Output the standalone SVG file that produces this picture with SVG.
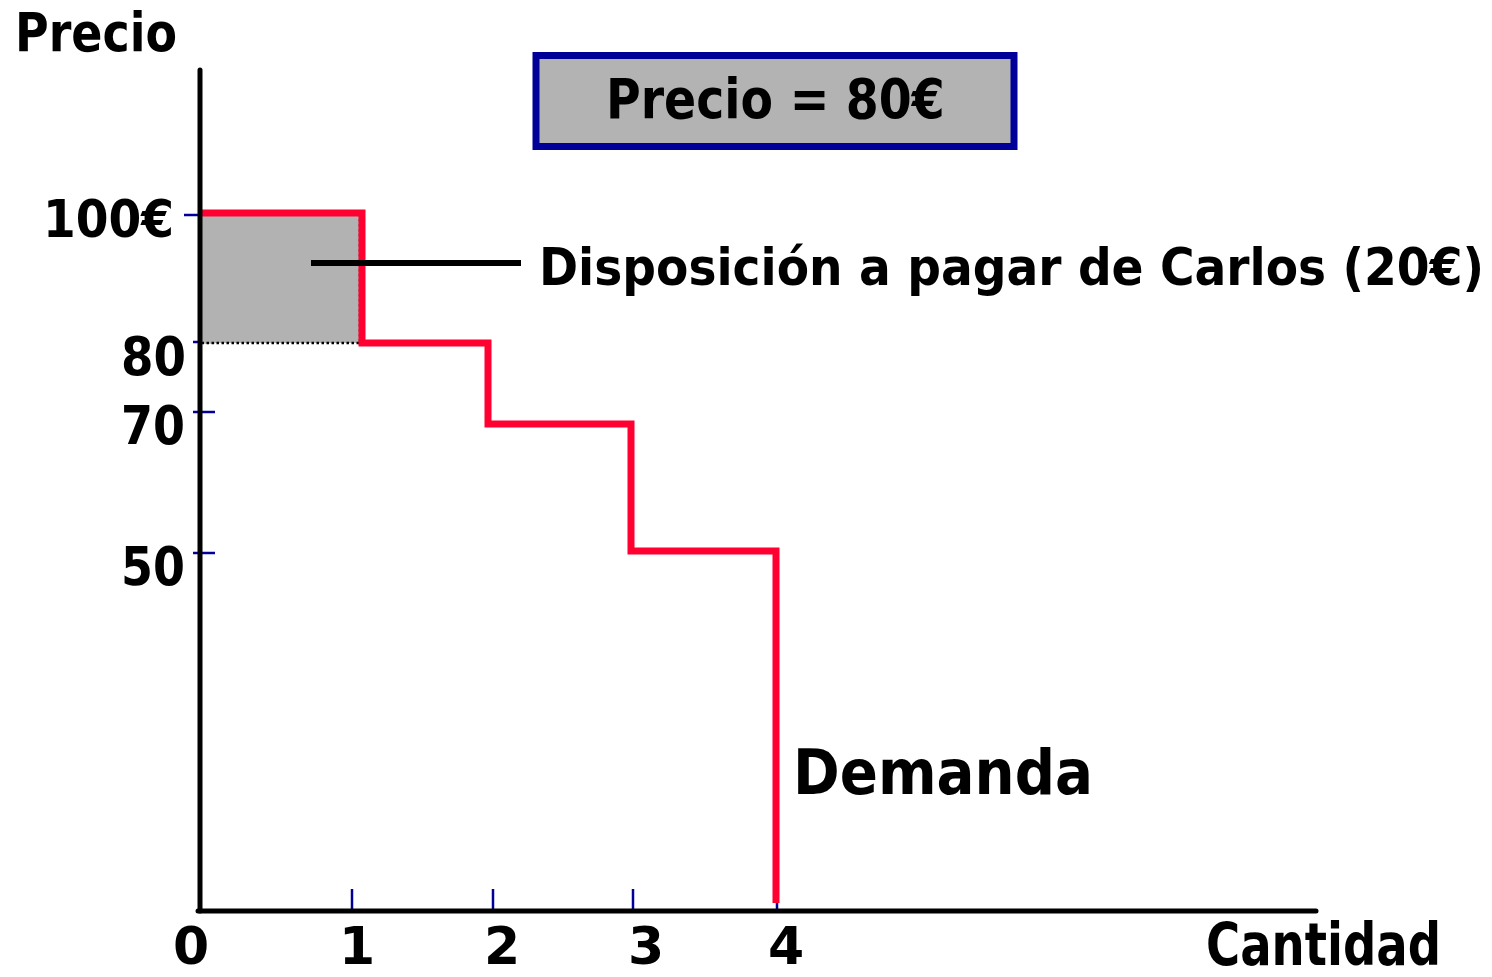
<svg xmlns="http://www.w3.org/2000/svg" width="1492" height="977" viewBox="0 0 1492 977">
<style>
text{font-family:"DejaVu Sans","Liberation Sans",sans-serif;font-weight:bold;fill:#000;}
.num{font-size:52px;text-anchor:middle;}
.tick{stroke:#000099;stroke-width:2.5;fill:none;}
.axis{stroke:#000;stroke-width:5;stroke-linecap:round;fill:none;}
</style>
<rect width="1492" height="977" fill="#fff"/>
<g id="ticks">
<line class="tick" x1="184" y1="215" x2="215" y2="215"/>
<line class="tick" x1="193" y1="342" x2="215" y2="342"/>
<line class="tick" x1="193" y1="412" x2="215" y2="412"/>
<line class="tick" x1="193" y1="553" x2="215" y2="553"/>
<line class="tick" x1="352" y1="889" x2="352" y2="911"/>
<line class="tick" x1="493" y1="889" x2="493" y2="911"/>
<line class="tick" x1="633" y1="889" x2="633" y2="911"/>
<line class="tick" x1="777" y1="889" x2="777" y2="911"/>
</g>
<g id="surplus">
<rect x="200" y="214" width="160" height="129" fill="#b2b2b2" stroke="#000" stroke-width="2.5" stroke-dasharray="2.5,2.5"/>
</g>
<g id="demand">
<polyline points="198,213 362,213 362,343 488,343 488,424 631,424 631,551 776,551 776,903" fill="none" stroke="#ff0030" stroke-width="7" stroke-linejoin="miter"/>
</g>
<g id="axes">
<line class="axis" x1="200" y1="70" x2="200" y2="911"/>
<line class="axis" x1="198" y1="911" x2="1316" y2="911"/>
</g>
<g id="connectors">
<line x1="311" y1="263" x2="521" y2="263" stroke="#000" stroke-width="6"/>
</g>
<g id="price-box">
<rect x="536" y="55.5" width="478" height="91" fill="#b3b3b3" stroke="#000099" stroke-width="7"/>
<text transform="translate(606 118) scale(0.862 1)" font-size="55" textLength="393" lengthAdjust="spacingAndGlyphs">Precio = 80€</text>
</g>
<g id="labels">
<text transform="translate(15 51) scale(0.85 1)" font-size="54" textLength="190.6" lengthAdjust="spacingAndGlyphs">Precio</text>
<text transform="translate(43 237) scale(0.923 1)" font-size="51" textLength="142" lengthAdjust="spacingAndGlyphs">100€</text>
<text transform="translate(121 375) scale(0.88 1)" font-size="53" textLength="73.9" lengthAdjust="spacingAndGlyphs">80</text>
<text transform="translate(121 444) scale(0.88 1)" font-size="53" textLength="72.7" lengthAdjust="spacingAndGlyphs">70</text>
<text transform="translate(121 585) scale(0.88 1)" font-size="53" textLength="72.7" lengthAdjust="spacingAndGlyphs">50</text>
<text transform="translate(539 285) scale(0.924 1)" font-size="51" textLength="1022.7" lengthAdjust="spacingAndGlyphs">Disposición a pagar de Carlos (20€)</text>
<text transform="translate(793 794) scale(0.894 1)" font-size="63" textLength="335.6" lengthAdjust="spacingAndGlyphs">Demanda</text>
<text transform="translate(1206 965) scale(0.80 1)" font-size="58" textLength="293.8" lengthAdjust="spacingAndGlyphs">Cantidad</text>
<text class="num" x="191" y="964">0</text>
<text class="num" x="357" y="964">1</text>
<text class="num" x="502" y="964">2</text>
<text class="num" x="646" y="964">3</text>
<text class="num" x="786" y="964">4</text>
</g>
</svg>
